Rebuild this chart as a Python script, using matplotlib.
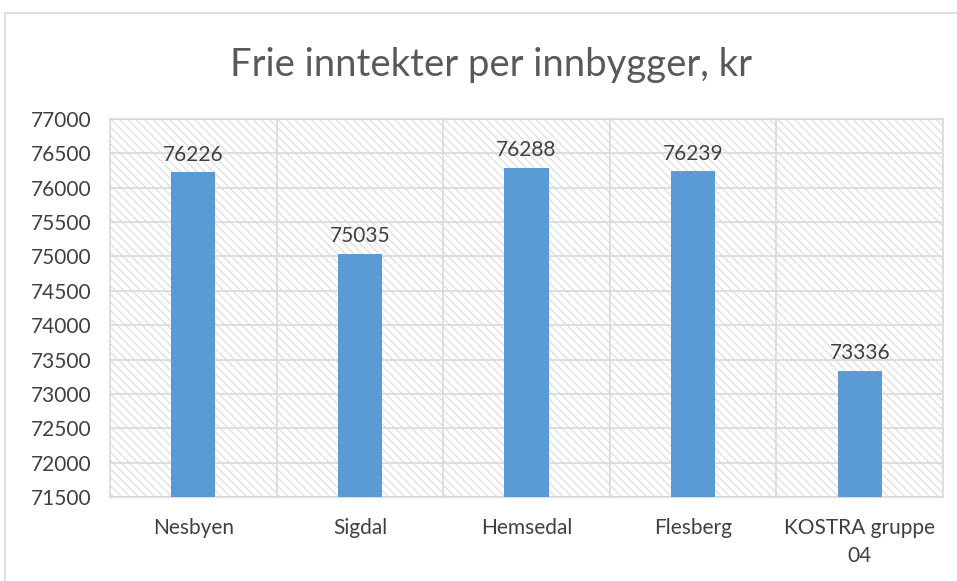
import matplotlib
matplotlib.use("Agg")
import matplotlib.pyplot as plt
from matplotlib.patches import Rectangle
import numpy as np

categories = ["Nesbyen", "Sigdal", "Hemsedal", "Flesberg", "KOSTRA gruppe\n04"]
values = [76226, 75035, 76288, 76239, 73336]
yticks = list(range(71500, 77001, 500))

plt.rcParams['font.family'] = ['Lato', 'DejaVu Sans']
plt.rcParams['hatch.color'] = '#d9d9d9'
plt.rcParams['hatch.linewidth'] = 0.75

fig = plt.figure(figsize=(9.57, 5.81), dpi=100)
ax = fig.add_axes([110 / 957, 1 - 497 / 581, 833 / 957, 378 / 581])

# outer chart frame (runs off the bottom/right of the image)
fig.add_artist(Rectangle((5 / 957, -0.05), 1.0, 1.05 - 13 / 581,
                         transform=fig.transFigure, fill=False,
                         edgecolor='#d9d9d9', linewidth=1.2))

ax.patch.set_hatch('\\\\\\\\')
ax.patch.set_edgecolor('#d9d9d9')

x = np.arange(len(categories))
bars = ax.bar(x, values, width=0.265, color='#5b9bd5', zorder=3)
for xi, v in zip(x, values):
    ax.text(xi, v + 110, str(v), ha='center', va='bottom',
            fontsize=15, color='#404040', zorder=4)

ax.set_xlim(-0.5, len(categories) - 0.5)
ax.set_ylim(71500, 77000)
ax.set_yticks(yticks)
ax.set_yticklabels([str(t) for t in yticks])
ax.set_xticks(x)
ax.set_xticklabels(categories, linespacing=1.5)
ax.set_xticks(np.arange(-0.5, len(categories)), minor=True)

ax.grid(axis='y', color='#d9d9d9', linewidth=1.2, zorder=1)
ax.grid(axis='x', which='minor', color='#d9d9d9', linewidth=1.2, zorder=1)
ax.grid(axis='x', which='major', visible=False)
ax.tick_params(axis='both', which='both', length=0, labelsize=15,
               labelcolor='#404040')
ax.tick_params(axis='x', pad=15)
ax.tick_params(axis='y', pad=13)
for s in ax.spines.values():
    s.set_color('#d9d9d9')
    s.set_linewidth(1.2)

fig.text(491 / 957, 1 - 65 / 581, "Frie inntekter per innbygger, kr",
         ha='center', va='center', fontsize=27.5, color='#595959')

fig.savefig("out.png", dpi=100)
